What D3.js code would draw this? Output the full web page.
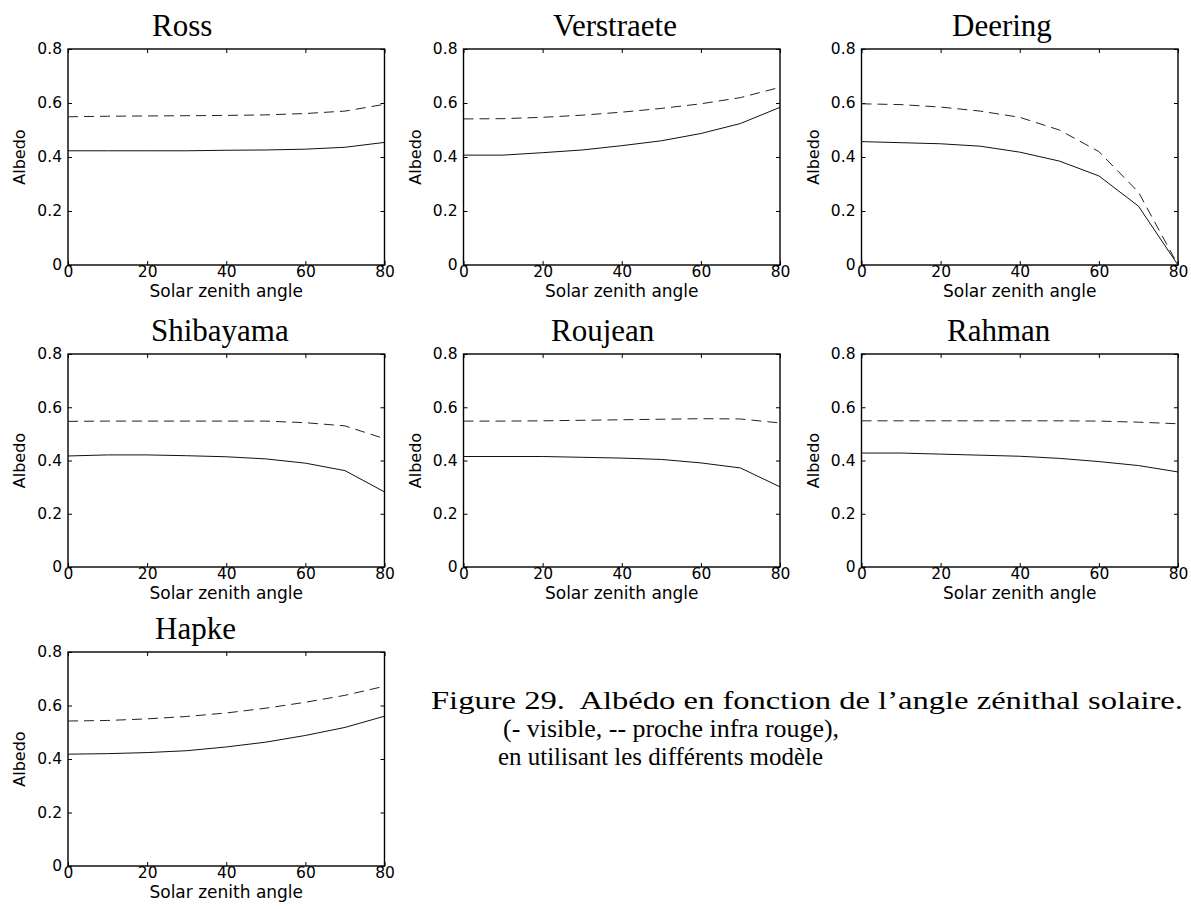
<!DOCTYPE html>
<html>
<head>
<meta charset="utf-8">
<script src="https://cdn.jsdelivr.net/npm/d3@7"></script>
<style>
  html, body { margin: 0; padding: 0; background: #fff; }
  svg { display: block; }
</style>
</head>
<body>
<svg id="chart" width="1191" height="909"></svg>
<script>
// ---- data ----
const angles = [0, 10, 20, 30, 40, 50, 60, 70, 80];
const models = ["Ross", "Verstraete", "Deering", "Shibayama", "Roujean", "Rahman", "Hapke"];
// visible (solid)
const rossVis       = [0.423, 0.423, 0.423, 0.423, 0.425, 0.426, 0.429, 0.436, 0.454];
const verstraeteVis = [0.407, 0.407, 0.416, 0.426, 0.442, 0.460, 0.487, 0.524, 0.584];
const deeringVis    = [0.457, 0.453, 0.449, 0.440, 0.418, 0.385, 0.330, 0.218, 0.0];
const shibayamaVis  = [0.417, 0.421, 0.421, 0.418, 0.414, 0.406, 0.390, 0.362, 0.282];
const roujeanVis    = [0.415, 0.415, 0.415, 0.412, 0.409, 0.404, 0.391, 0.372, 0.301];
const rahmanVis     = [0.428, 0.428, 0.424, 0.420, 0.416, 0.408, 0.396, 0.381, 0.357];
const hapkeVis      = [0.418, 0.420, 0.424, 0.431, 0.445, 0.463, 0.488, 0.518, 0.560];
// near infrared (dashed)
const rossNir       = [0.549, 0.551, 0.552, 0.553, 0.554, 0.556, 0.561, 0.570, 0.595];
const verstraeteNir = [0.541, 0.542, 0.547, 0.555, 0.566, 0.580, 0.597, 0.620, 0.658];
const deeringNir    = [0.597, 0.594, 0.585, 0.570, 0.547, 0.500, 0.420, 0.270, 0.0];
const shibayamaNir  = [0.547, 0.548, 0.548, 0.548, 0.548, 0.548, 0.542, 0.530, 0.482];
const roujeanNir    = [0.548, 0.548, 0.549, 0.551, 0.553, 0.555, 0.557, 0.556, 0.541];
const rahmanNir     = [0.549, 0.549, 0.549, 0.549, 0.549, 0.549, 0.548, 0.544, 0.538];
const hapkeNir      = [0.542, 0.544, 0.550, 0.559, 0.572, 0.590, 0.612, 0.638, 0.672];
const xTicks = [0, 20, 40, 60, 80];
const yTicks = [0, 0.2, 0.4, 0.6, 0.8];
const yTickLabels = ["0", "0.2", "0.4", "0.6", "0.8"];
const xLabel = "Solar zenith angle";
const yLabel = "Albedo";
const captionLines = [
  "Figure 29.  Albédo en fonction de l\u2019angle zénithal solaire.",
  "(- visible, -- proche infra rouge),",
  "en utilisant les différents modèle"
];

const visSeries = [rossVis, verstraeteVis, deeringVis, shibayamaVis, roujeanVis, rahmanVis, hapkeVis];
const nirSeries = [rossNir, verstraeteNir, deeringNir, shibayamaNir, roujeanNir, rahmanNir, hapkeNir];

// ---- layout ----
const colLefts = [68, 463.5, 861.5];
const plotW = 316.5;
const rowTops = [49, 354, 652];
const rowBottoms = [265, 567, 866];
const titleDx = [84, 89.5, 90.5, 83, 87.5, 85.5, 87];

const svg = d3.select("#chart");
const sans = "'DejaVu Sans', sans-serif";
const serif = "'Liberation Serif', 'Times New Roman', serif";

models.forEach((name, i) => {
  const r = Math.floor(i / 3), c = i % 3;
  const left = colLefts[c], top = rowTops[r], bottom = rowBottoms[r];
  const x = d3.scaleLinear().domain([0, 80]).range([left, left + plotW]);
  const y = d3.scaleLinear().domain([0, 0.8]).range([bottom, top]);
  const g = svg.append("g");

  // axes with inward ticks
  const fmtY = d => yTickLabels[yTicks.indexOf(d)];
  const ax = [
    g.append("g").attr("transform", `translate(0,${bottom})`)
      .call(d3.axisBottom(x).tickValues(xTicks).tickSize(-4).tickPadding(1).tickFormat(d3.format("d"))),
    g.append("g").attr("transform", `translate(${left},0)`)
      .call(d3.axisLeft(y).tickValues(yTicks).tickSize(-4).tickPadding(6).tickFormat(fmtY)),
    g.append("g").attr("transform", `translate(0,${top})`)
      .call(d3.axisTop(x).tickValues(xTicks).tickSize(-4).tickFormat("")),
    g.append("g").attr("transform", `translate(${left + plotW},0)`)
      .call(d3.axisRight(y).tickValues(yTicks).tickSize(-4).tickFormat(""))
  ];
  ax.forEach(a => {
    a.select(".domain").remove();
    a.selectAll("line").attr("stroke", "#000").attr("stroke-width", 1);
    a.selectAll("text").attr("font-family", sans).attr("font-size", 15.5).attr("fill", "#000");
  });

  // frame
  g.append("rect").attr("x", left).attr("y", top)
    .attr("width", plotW).attr("height", bottom - top)
    .attr("fill", "none").attr("stroke", "#000").attr("stroke-width", 1.4);

  const line = d3.line().x((d, k) => x(angles[k])).y(d => y(d));
  g.append("path").datum(nirSeries[i]).attr("d", line)
    .attr("fill", "none").attr("stroke", "#222").attr("stroke-width", 1)
    .attr("stroke-dasharray", "10,6");
  g.append("path").datum(visSeries[i]).attr("d", line)
    .attr("fill", "none").attr("stroke", "#111").attr("stroke-width", 1);

  // labels
  g.append("text").attr("x", left + plotW / 2).attr("y", bottom + 31.5)
    .attr("text-anchor", "middle").attr("font-family", sans).attr("font-size", 17)
    .text(xLabel);
  g.append("text").attr("transform", `translate(${left - 43},${(top + bottom) / 2}) rotate(-90)`)
    .attr("text-anchor", "middle").attr("font-family", sans).attr("font-size", 16)
    .text(yLabel);
  g.append("text").attr("x", left + titleDx[i]).attr("y", top - 13)
    .attr("font-family", serif).attr("font-size", 31)
    .text(name);
});

// caption
const capX = [431, 503, 498];
const capW = [752, 336, 325];
const capY = [709, 737, 765];
captionLines.forEach((t, k) => {
  svg.append("text").attr("x", capX[k]).attr("y", capY[k])
    .attr("font-family", serif).attr("font-size", 25.5)
    .attr("textLength", capW[k]).attr("lengthAdjust", "spacingAndGlyphs")
    .style("white-space", "pre")
    .text(t);
});
</script>
</body>
</html>
